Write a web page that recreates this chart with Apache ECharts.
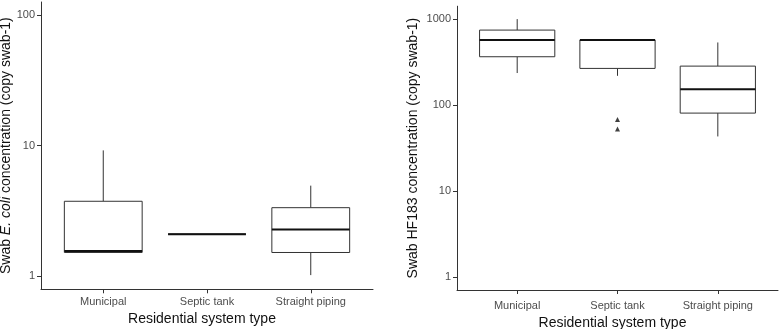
<!DOCTYPE html>
<html><head><meta charset="utf-8">
<script src="https://cdn.jsdelivr.net/npm/echarts@6/dist/echarts.min.js"></script>
<style>html,body{margin:0;padding:0;background:#fff}#c{width:780px;height:329px}</style>
</head><body><div id="c"></div>
<script>
// ---- data ----
const categories = ['Municipal', 'Septic tank', 'Straight piping'];
const categoryPos = [1, 2, 3];

// Left panel: Swab E. coli
const ecoliMin    = [1.52, 2.1, 1.02];
const ecoliQ1     = [1.52, 2.1, 1.52];
const ecoliMedian = [1.56, 2.1, 2.28];
const ecoliQ3     = [3.75, 2.1, 3.35];
const ecoliMax    = [9.2, 2.1, 4.94];
const ecoliTicks  = [1, 10, 100];

// Right panel: Swab HF183
const hfMin    = [236, 219, 43.2];
const hfQ1     = [365, 267, 80.7];
const hfMedian = [570, 570, 153];
const hfQ3     = [745, 570, 284];
const hfMax    = [1000, 570, 535];
const hfOutlierCat = [2, 2];
const hfOutlierVal = [68, 52.6];
const hfTicks  = [1, 10, 100, 1000];

// ---- build ----
const FONT = '"Liberation Sans", Arial, sans-serif';
function rows(mn, q1, md, q3, mx) {
  return categoryPos.map((p, i) => [p, mn[i], q1[i], md[i], q3[i], mx[i]]);
}
function renderBox(params, api) {
  const x = api.value(0);
  const vMin = api.value(1), q1 = api.value(2), med = api.value(3), q3 = api.value(4), vMax = api.value(5);
  const half = 0.375;
  const c = v => api.coord([x, v]);
  const tl = api.coord([x - half, q3]);
  const br = api.coord([x + half, q1]);
  const ml = api.coord([x - half, med]);
  const mr = api.coord([x + half, med]);
  const ls = { stroke: '#333', lineWidth: 1 };
  const children = [];
  if (vMax > q3) children.push({ type: 'line', shape: { x1: c(q3)[0], y1: c(q3)[1], x2: c(vMax)[0], y2: c(vMax)[1] }, style: ls });
  if (vMin < q1) children.push({ type: 'line', shape: { x1: c(q1)[0], y1: c(q1)[1], x2: c(vMin)[0], y2: c(vMin)[1] }, style: ls });
  children.push({ type: 'rect', shape: { x: tl[0], y: tl[1], width: br[0] - tl[0], height: br[1] - tl[1] }, style: { fill: '#fff', stroke: '#333', lineWidth: 1 } });
  children.push({ type: 'line', shape: { x1: ml[0], y1: ml[1], x2: mr[0], y2: mr[1] }, style: { stroke: '#111', lineWidth: 2 } });
  return { type: 'group', children };
}
function xAxisCfg(gridIndex, nameGap, labelMargin) {
  return {
    type: 'value', gridIndex, min: 0.4, max: 3.6,
    name: 'Residential system type', nameLocation: 'middle', nameGap,
    nameTextStyle: { fontFamily: FONT, fontSize: 14, color: '#111', padding: [0, 10, 0, 0] },
    axisLine: { show: true, lineStyle: { color: '#333', width: 1 } },
    axisTick: { show: true, length: 4, customValues: categoryPos, lineStyle: { color: '#333' } },
    axisLabel: { customValues: categoryPos, margin: labelMargin, fontFamily: FONT, fontSize: 11, color: '#4d4d4d',
      formatter: v => categories[Math.round(v) - 1] || '' },
    splitLine: { show: false }
  };
}
function yAxisCfg(gridIndex, min, max, ticks, name, rich, nameGap) {
  return {
    type: 'log', logBase: 10, gridIndex, min, max,
    name, nameLocation: 'middle', nameGap,
    nameTextStyle: { fontFamily: FONT, fontSize: 14, color: '#111', rich },
    axisLine: { show: true, lineStyle: { color: '#333', width: 1 } },
    axisTick: { show: true, length: 4, customValues: ticks, lineStyle: { color: '#333' } },
    axisLabel: { customValues: ticks, margin: 6, fontFamily: FONT, fontSize: 11, color: '#4d4d4d',
      formatter: v => String(Math.round(v)) },
    splitLine: { show: false }
  };
}
const richStyles = {
  n: { fontFamily: FONT, fontSize: 14, color: '#111' },
  i: { fontFamily: FONT, fontSize: 14, color: '#111', fontStyle: 'italic' }
};

const option = {
  animation: false,
  backgroundColor: '#fff',
  grid: [
    { left: 41, top: 2, width: 332, height: 287.3, containLabel: false, outerBoundsMode: 'none' },
    { left: 457, top: 6.2, width: 321, height: 283.8, containLabel: false, outerBoundsMode: 'none' }
  ],
  xAxis: [xAxisCfg(0, 18, 7), xAxisCfg(1, 23, 10)],
  yAxis: [
    yAxisCfg(0, 0.7943, 125.9, ecoliTicks, '{n|Swab }{i|E. coli}{n| concentration (copy swab-1)}', richStyles, 23),
    yAxisCfg(1, 0.7079, 1412.5, hfTicks, '{n|Swab HF183 concentration (copy swab-1)}', richStyles, 37)
  ],
  series: [
    { type: 'custom', xAxisIndex: 0, yAxisIndex: 0, renderItem: renderBox,
      encode: { x: 0, y: [1, 2, 3, 4, 5] }, data: rows(ecoliMin, ecoliQ1, ecoliMedian, ecoliQ3, ecoliMax) },
    { type: 'custom', xAxisIndex: 1, yAxisIndex: 1, renderItem: renderBox,
      encode: { x: 0, y: [1, 2, 3, 4, 5] }, data: rows(hfMin, hfQ1, hfMedian, hfQ3, hfMax) },
    { type: 'scatter', xAxisIndex: 1, yAxisIndex: 1, symbol: 'triangle', symbolSize: 5,
      itemStyle: { color: '#111' }, data: hfOutlierCat.map((c, i) => [c, hfOutlierVal[i]]) }
  ]
};
const chart = echarts.init(document.getElementById('c'));
chart.setOption(option);
</script>
</body></html>
